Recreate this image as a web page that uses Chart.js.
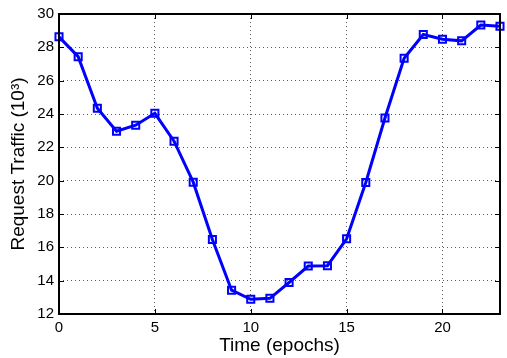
<!DOCTYPE html>
<html>
<head>
<meta charset="utf-8">
<script src="https://cdn.jsdelivr.net/npm/chart.js@4"></script>
<style>
html,body{margin:0;padding:0;background:#fff;}
#wrap{width:507px;height:358px;}
</style>
</head>
<body>
<div id="wrap"><canvas id="c" width="507" height="358"></canvas></div>
<script>
const epochs = [0,1,2,3,4,5,6,7,8,9,10,11,12,13,14,15,16,17,18,19,20,21,22,23];
const traffic = [28.63,27.44,24.34,22.97,23.33,24.04,22.37,19.91,16.47,13.43,12.88,12.94,13.89,14.88,14.9,16.51,19.89,23.76,27.34,28.77,28.49,28.39,29.34,29.27];
const xTicks = [0,5,10,15,20];
const yTicks = [12,14,16,18,20,22,24,26,28,30];
const xTitle = 'Time (epochs)';
const yTitle = 'Request Traffic (10\u00B3)';

const FONT = "'Liberation Sans', Arial, Helvetica, sans-serif";

const boxPlugin = {
  id: 'boxPlugin',
  afterDatasetsDraw(chart) {
    const {ctx, chartArea: a, scales: {x, y}} = chart;
    ctx.save();
    ctx.strokeStyle = '#000';
    ctx.lineWidth = 1;
    const tl = 5;
    ctx.beginPath();
    xTicks.forEach(v => {
      const px = Math.round(x.getPixelForValue(v)) + 0.5;
      ctx.moveTo(px, a.bottom); ctx.lineTo(px, a.bottom - tl);
      ctx.moveTo(px, a.top); ctx.lineTo(px, a.top + tl);
    });
    yTicks.forEach(v => {
      const py = Math.round(y.getPixelForValue(v)) + 0.5;
      ctx.moveTo(a.left, py); ctx.lineTo(a.left + tl, py);
      ctx.moveTo(a.right, py); ctx.lineTo(a.right - tl, py);
    });
    ctx.stroke();
    ctx.lineWidth = 2;
    ctx.strokeRect(Math.round(a.left), Math.round(a.top), Math.round(a.right - a.left), Math.round(a.bottom - a.top));
    ctx.restore();
  }
};

new Chart(document.getElementById('c'), {
  type: 'line',
  data: {
    datasets: [{
      data: epochs.map((e, i) => ({x: e, y: traffic[i]})),
      borderColor: '#0000ff',
      borderWidth: 3,
      pointStyle: 'rect',
      pointRadius: 5,
      pointBorderWidth: 2,
      pointBorderColor: '#0000ff',
      pointBackgroundColor: 'rgba(255,255,255,0)',
      tension: 0,
      fill: false,
      clip: false
    }]
  },
  plugins: [boxPlugin],
  options: {
    responsive: false,
    animation: false,
    events: [],
    layout: {padding: {left: 0, right: 3, top: 12, bottom: 0}},
    plugins: {legend: {display: false}, tooltip: {enabled: false}},
    scales: {
      x: {
        type: 'linear',
        min: 0, max: 23,
        afterBuildTicks: s => { s.ticks = xTicks.map(v => ({value: v})); },
        afterFit: s => { s.height = 44; },
        ticks: {color: '#000', font: {family: FONT, size: 15}, padding: 5, maxRotation: 0},
        grid: {color: 'rgba(0,0,0,0.65)', lineWidth: 1, drawTicks: false},
        border: {display: false, dash: [1, 3]},
        title: {display: true, text: xTitle, color: '#000', font: {family: FONT, size: 19, lineHeight: 1}, padding: {top: 0, bottom: 3}}
      },
      y: {
        type: 'linear',
        min: 12, max: 30,
        afterBuildTicks: s => { s.ticks = yTicks.map(v => ({value: v})); },
        afterFit: s => { s.width = 59; },
        ticks: {color: '#000', font: {family: FONT, size: 15}, padding: 5},
        grid: {color: 'rgba(0,0,0,0.65)', lineWidth: 1, drawTicks: false},
        border: {display: false, dash: [1, 3]},
        title: {display: true, text: yTitle, color: '#000', font: {family: FONT, size: 19, lineHeight: 1}, padding: {top: 9, bottom: 0}}
      }
    }
  }
});
</script>
</body>
</html>
